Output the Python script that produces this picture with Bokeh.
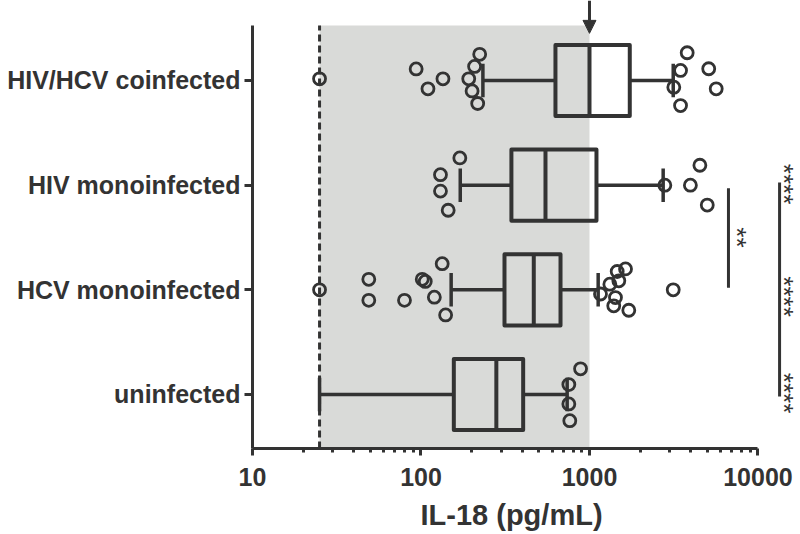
import math
from bokeh.plotting import figure
from bokeh.models import Range1d, FixedTicker, Arrow, NormalHead
from bokeh.core.properties import value
from bokeh.embed import file_html
from bokeh.resources import INLINE

# ---------------- data ----------------
groups = ["uninfected", "HCV monoinfected", "HIV monoinfected", "HIV/HCV coinfected"]

whisker_low = [25, 151, 171, 233]
q1 = [156.6, 313, 344, 628]
median = [280, 467, 548, 1000]
q3 = [404, 673, 1100, 1734]
whisker_high = [737, 1126, 2737, 3140]

# individual points outside whiskers: value (pg/mL) and vertical jitter (category units)
uninf_vals = [885, 754, 754, 764]
uninf_jit = [0.245, 0.095, -0.09, -0.25]
hcv_vals = [25, 49, 49, 79.8, 101.7, 106, 133.6, 120, 140,
            1636, 1460, 1493, 1321, 1162, 1426, 1393, 1711, 3140]
hcv_jit = [0.0, 0.10, -0.10, -0.10, 0.10, 0.08, 0.25, -0.07, -0.24,
           0.20, 0.175, 0.086, 0.054, -0.04, -0.074, -0.153, -0.195, 0.0]
hiv_vals = [170, 130.5, 130.5, 145, 2800, 4520, 3970, 5000]
hiv_jit = [0.26, 0.10, -0.057, -0.24, 0.0, 0.19, 0.0, -0.19]
coinf_vals = [25, 93.6, 110, 135, 223, 208, 192, 201, 217,
              3800, 3470, 3165, 3470, 5100, 5650]
coinf_jit = [0.016, 0.11, -0.08, 0.016, 0.25, 0.134, 0.016, -0.10, -0.22,
             0.265, 0.096, -0.064, -0.24, 0.112, -0.08]
point_vals = [uninf_vals, hcv_vals, hiv_vals, coinf_vals]
point_jit = [uninf_jit, hcv_jit, hiv_jit, coinf_jit]

detection_limit = 25      # dashed line
shade_upper = 1000        # end of grey band / arrow

x_ticks = [10, 100, 1000, 10000]
x_tick_labels = ["10", "100", "1000", "10000"]
x_label = "IL-18 (pg/mL)"

# significance brackets: x position (pg/mL), y from, y to
sig_line_x = [6680, 13430]
sig_line_y0 = [1.02, -0.02]
sig_line_y1 = [1.97, 2.025]
sig_text_x = [9270, 17500, 17500, 17500]
sig_text_y = [1.5, 2.01, 0.936, 0.014]
sig_text = ["**", "****", "****", "****"]

# ---------------- styling ----------------
INK = "#333333"
GREY = "#d9dad8"
FONT = "Liberation Sans"

y_start, y_end = -0.516, 3.764
spine_top = 3.5255
box_half = 0.34
cap_half = 0.16

p = figure(width=800, height=534, x_axis_type="log",
           x_range=Range1d(10, 17876), y_range=Range1d(y_start, y_end),
           output_backend="svg", toolbar_location=None,
           title=x_label, title_location="below",
           min_border_left=252, min_border_right=0, min_border_top=0,
           min_border_bottom=86)
p.xgrid.grid_line_color = None
p.ygrid.grid_line_color = None
p.outline_line_color = None
p.background_fill_color = "white"
p.border_fill_color = "white"

p.title.align = "left"
p.title.offset = 168
p.title.standoff = 0
p.title.text_font = FONT
p.title.text_font_style = "bold"
p.title.text_font_size = "29px"
p.title.text_color = INK

# grey band
p.quad(left=[detection_limit], right=[shade_upper], bottom=[y_start], top=[spine_top],
       fill_color=GREY, line_color=None)
# dashed detection limit
p.segment(x0=[detection_limit], x1=[detection_limit], y0=[y_start], y1=[spine_top],
          line_color=INK, line_width=3, line_dash="7 4")

idx = list(range(len(groups)))
# whiskers
p.segment(x0=whisker_low, x1=q1, y0=idx, y1=idx, line_color=INK, line_width=3.5)
p.segment(x0=q3, x1=whisker_high, y0=idx, y1=idx, line_color=INK, line_width=3.5)
# caps
p.segment(x0=whisker_low, x1=whisker_low, y0=[i - cap_half for i in idx],
          y1=[i + cap_half for i in idx], line_color=INK, line_width=3.5)
p.segment(x0=whisker_high, x1=whisker_high, y0=[i - cap_half for i in idx],
          y1=[i + cap_half for i in idx], line_color=INK, line_width=3.5)
# boxes
p.quad(left=q1, right=q3, bottom=[i - box_half for i in idx], top=[i + box_half for i in idx],
       fill_color=None, line_color=INK, line_width=4, line_join="round")
p.segment(x0=median, x1=median, y0=[i - box_half for i in idx],
          y1=[i + box_half for i in idx], line_color=INK, line_width=4)

# points
for i, (vals, jit) in enumerate(zip(point_vals, point_jit)):
    p.scatter(x=vals, y=[i + j for j in jit], marker="circle", size=12,
              line_color=INK, line_width=2.8, fill_color=None)

# significance
p.segment(x0=sig_line_x, x1=sig_line_x, y0=sig_line_y0, y1=sig_line_y1,
          line_color=INK, line_width=3)
p.text(x=sig_text_x, y=sig_text_y, text=sig_text, angle=-math.pi / 2,
       text_align="center", text_baseline="top", text_color=INK,
       text_font=value(FONT), text_font_size="26px")

# arrow at 1000
p.add_layout(Arrow(end=NormalHead(size=13, fill_color=INK, line_color=INK, line_width=1),
                   x_start=shade_upper, x_end=shade_upper, y_start=y_end, y_end=3.45,
                   line_color=INK, line_width=3))

# axes
xa = p.xaxis[0]
xa.ticker = FixedTicker(ticks=x_ticks,
                        minor_ticks=[k * 10 ** e for e in (1, 2, 3) for k in range(2, 10)])
xa.major_label_overrides = {t: l for t, l in zip(x_ticks, x_tick_labels)}
xa.bounds = (10, 10000)
# invisible spacer label to push the title (x-axis caption) down a little
xa.axis_label = "\u00a0"
xa.axis_label_text_font_size = "1px"
xa.axis_label_standoff = 4
ya = p.yaxis[0]
ya.ticker = FixedTicker(ticks=idx)
ya.major_label_overrides = {i: g for i, g in zip(idx, groups)}
ya.bounds = (y_start, spine_top)
ya.minor_tick_line_color = None

for ax in (xa, ya):
    ax.axis_line_color = INK
    ax.axis_line_width = 3
    ax.major_tick_line_color = INK
    ax.major_tick_line_width = 3
    ax.major_tick_in = 0
    ax.major_label_text_font = FONT
    ax.major_label_text_font_style = "bold"
    ax.major_label_text_font_size = "25px"
    ax.major_label_text_color = INK
xa.major_tick_out = 7
xa.minor_tick_out = 4
xa.minor_tick_in = 0
xa.minor_tick_line_color = INK
xa.minor_tick_line_width = 3
xa.major_label_standoff = 12
ya.major_tick_out = 8
ya.major_label_standoff = 4

open("out.html", "w").write(file_html(p, INLINE))
